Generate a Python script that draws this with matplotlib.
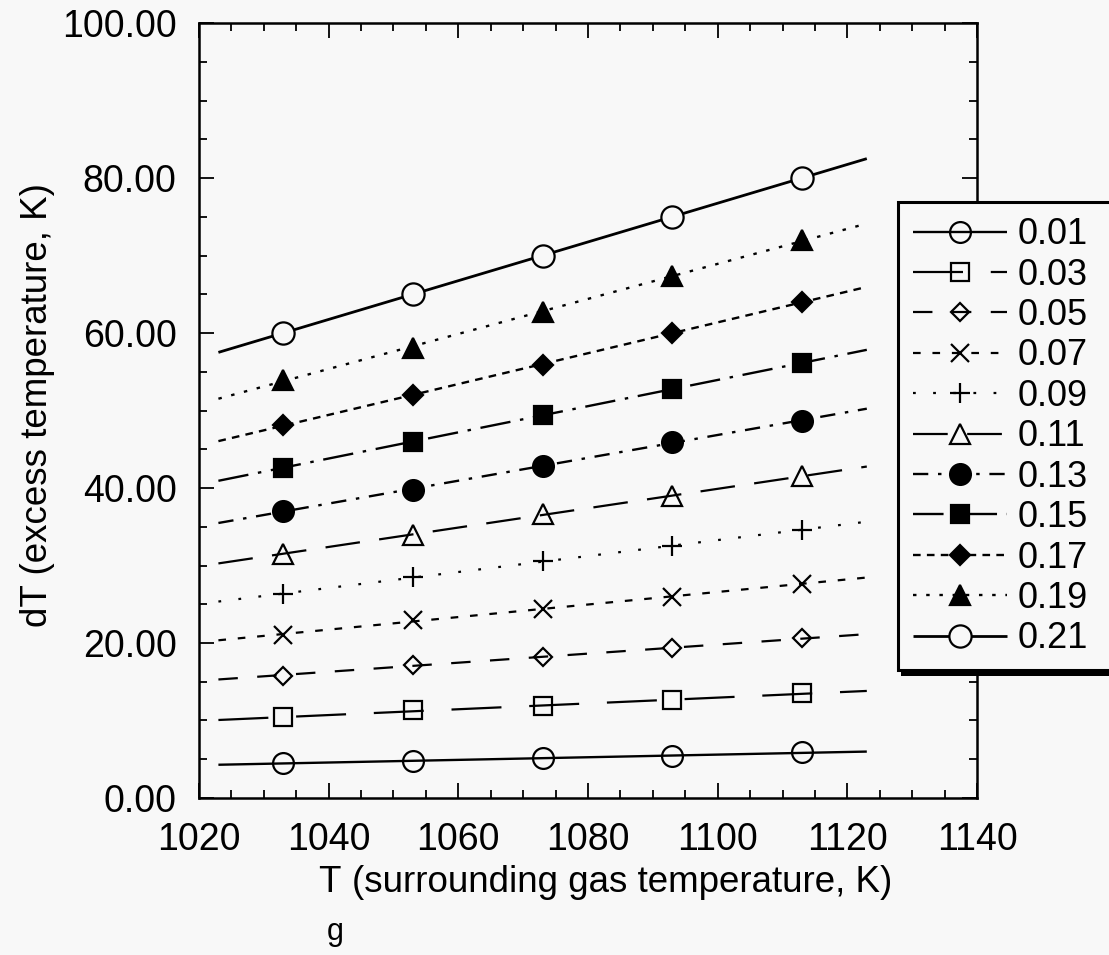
import numpy as np
import matplotlib
matplotlib.use("Agg")
import matplotlib.pyplot as plt
from matplotlib.lines import Line2D
from matplotlib.patches import Rectangle
from matplotlib.ticker import MultipleLocator, FormatStrFormatter
import matplotlib.patheffects as pe

# gas temperatures where dT was computed (K)
tg = [1033, 1053, 1073, 1093, 1113]
# range covered by the straight-line fits
fit_range = [1023, 1123]

# excess temperature dT (K) for each parameter value
dt_001 = [4.5, 4.8, 5.1, 5.4, 5.9]
dt_003 = [10.4, 11.3, 11.9, 12.6, 13.5]
dt_005 = [15.8, 17.2, 18.2, 19.3, 20.6]
dt_007 = [21.0, 23.0, 24.4, 26.0, 27.6]
dt_009 = [26.3, 28.5, 30.6, 32.5, 34.6]
dt_011 = [31.5, 34.0, 36.6, 39.0, 41.5]
dt_013 = [37.0, 39.8, 42.9, 45.9, 48.7]
dt_015 = [42.6, 46.0, 49.4, 52.8, 56.1]
dt_017 = [48.1, 52.0, 55.9, 60.0, 64.0]
dt_019 = [54.0, 58.1, 62.7, 67.3, 72.0]
dt_021 = [60.0, 65.0, 70.0, 75.0, 80.0]

labels = ["0.01", "0.03", "0.05", "0.07", "0.09", "0.11",
          "0.13", "0.15", "0.17", "0.19", "0.21"]
series = [dt_001, dt_003, dt_005, dt_007, dt_009, dt_011,
          dt_013, dt_015, dt_017, dt_019, dt_021]

BG = "#f8f8f8"

# line style, marker, marker size, face colour, line width
styles = [
    ((0, ()), "o", 15.0, "none", 1.7),
    ((0, (36, 20)), "s", 13.0, "none", 1.6),
    ((0, (14, 14)), "D", 9.5, "none", 1.6),
    ((0, (5.5, 8.5)), "x", 13.5, "none", 1.6),
    ((0, (2, 12.5)), "+", 14.0, "none", 1.6),
    ((0, (25, 14)), "^", 14.0, "none", 1.6),
    ((0, (11, 7, 2.5, 7)), "o", 15.0, "k", 1.7),
    ((0, (22, 7, 2.5, 7)), "s", 13.5, "k", 1.7),
    ((0, (5.5, 4.5)), "D", 10.0, "k", 1.7),
    ((0, (2.5, 7)), "^", 14.5, "k", 1.7),
    ((0, ()), "o", 16.0, BG, 2.0),
]

plt.rcParams["font.family"] = ["Liberation Sans", "DejaVu Sans"]
plt.rcParams["lines.scale_dashes"] = False

fig = plt.figure(figsize=(11.09, 9.55), dpi=100, facecolor=BG)
ax = fig.add_axes([0.1794, 0.1644, 0.7016, 0.8115], facecolor=BG)

handles = []
xf = np.array(fit_range, dtype=float)
for vals, lab, (ls, mk, ms, face, lw) in zip(series, labels, styles):
    # straight-line fit through the computed points
    k, b = np.polyfit(tg, vals, 1)
    ax.plot(xf, k * xf + b, color="k", lw=lw, ls=ls, solid_capstyle="butt",
            dash_capstyle="butt", zorder=2)
    ax.plot(tg, vals, ls="none", marker=mk, ms=ms, mfc=face, mec="k",
            mew=1.6, zorder=3)
    handles.append(Line2D([], [], color="k", lw=lw, ls=ls, marker=mk, ms=ms,
                          mfc=face, mec="k", mew=1.6,
                          dash_capstyle="butt", solid_capstyle="butt"))

ax.set_xlim(1020, 1140)
ax.set_ylim(0, 100)
ax.xaxis.set_major_locator(MultipleLocator(20))
ax.xaxis.set_minor_locator(MultipleLocator(5))
ax.yaxis.set_major_locator(MultipleLocator(20))
ax.yaxis.set_minor_locator(MultipleLocator(5))
ax.yaxis.set_major_formatter(FormatStrFormatter("%.2f"))

for s in ax.spines.values():
    s.set_linewidth(1.8)
ax.tick_params(which="both", direction="in", top=True, right=True,
               labelsize=27, width=1.3)
ax.tick_params(which="major", length=11)
ax.tick_params(which="minor", length=6)
ax.tick_params(axis="y", pad=16)
ax.tick_params(axis="x", pad=17)

# axis titles
fig.text(38 / 1109, 1 - 405 / 955, "dT (excess temperature, K)",
         rotation=90, ha="center", va="center", fontsize=26.5)
fig.text(318 / 1109, 1 - 882 / 955, "T", ha="left", va="center", fontsize=26.5)
fig.text(352 / 1109, 1 - 882 / 955, "(surrounding gas temperature, K)",
         ha="left", va="center", fontsize=26.5)
fig.text(327 / 1109, 1 - 932 / 955, "g", ha="left", va="center", fontsize=22)

# legend box runs off the right edge of the page, with a drop shadow
box_top = 1 - 202 / 955
box_bot = 1 - 670 / 955
box = Rectangle((898 / 1109, box_bot), 0.3, box_top - box_bot,
                transform=fig.transFigure, facecolor=BG, edgecolor="k",
                linewidth=2.2, zorder=4)
box.set_path_effects([pe.SimplePatchShadow(offset=(2, -4), shadow_rgbFace="k",
                                           alpha=1), pe.Normal()])
fig.add_artist(box)

leg = fig.legend(handles, labels, loc="upper left",
                 bbox_to_anchor=(898 / 1109, box_top),
                 bbox_transform=fig.transFigure, borderaxespad=0,
                 fontsize=26, numpoints=1, handlelength=2.6,
                 handletextpad=0.28, labelspacing=0.15, borderpad=0.42,
                 frameon=False)
leg.set_zorder(5)

fig.savefig("out.png", dpi=100, facecolor=BG)
